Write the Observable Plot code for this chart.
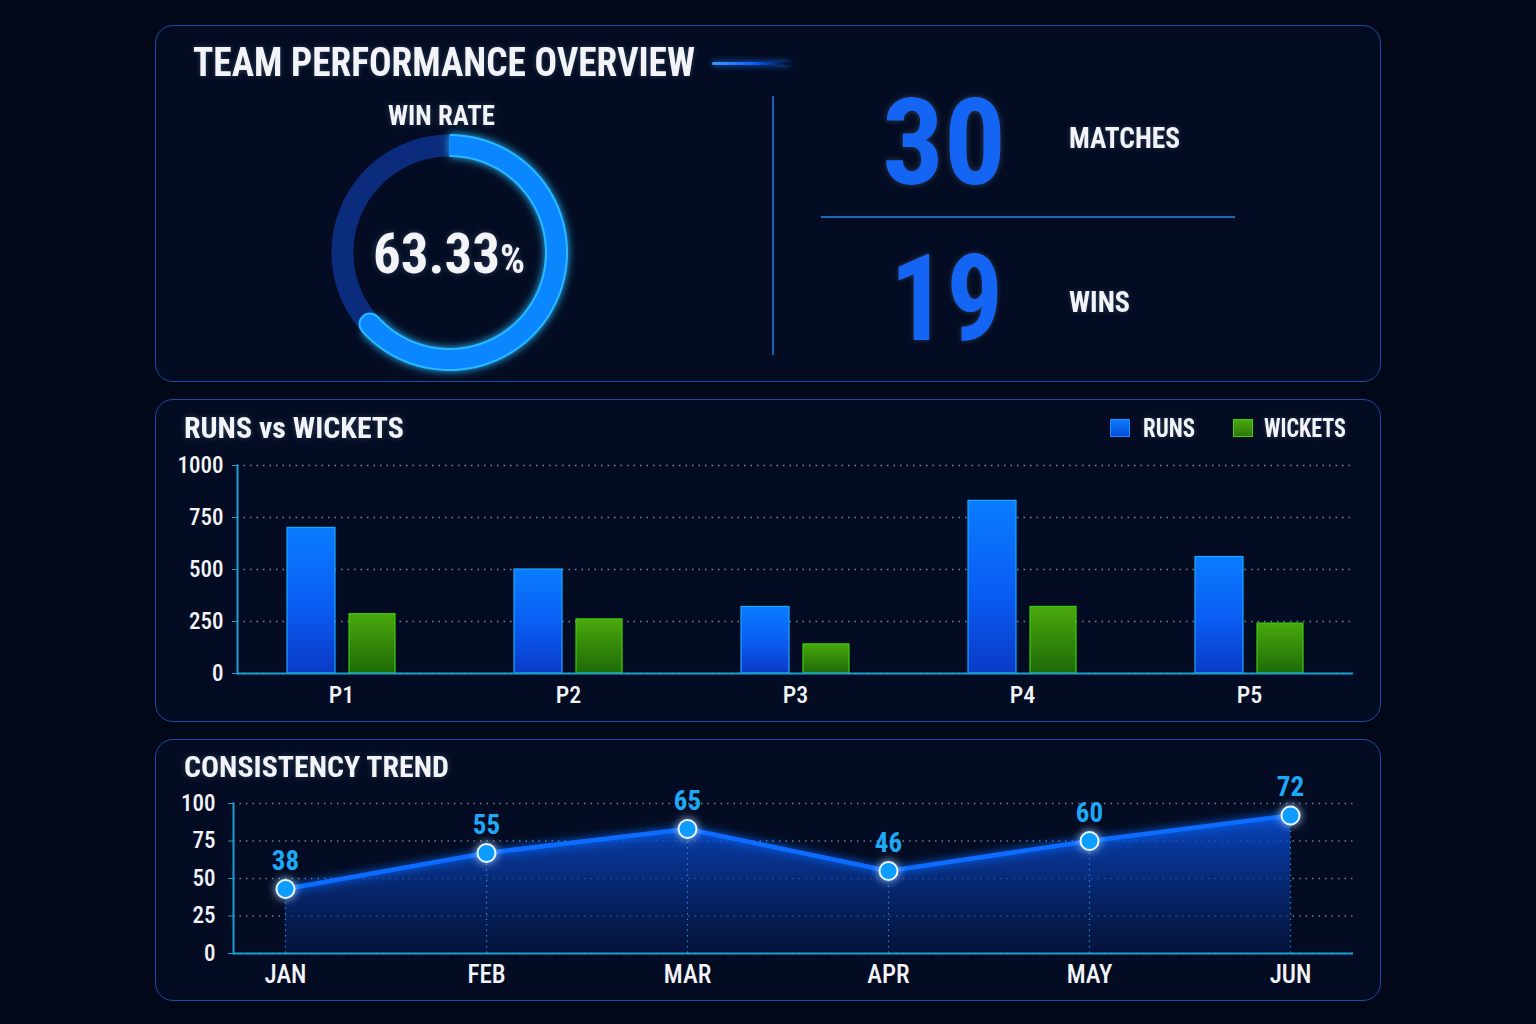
<!DOCTYPE html>
<html><head><meta charset="utf-8">
<script src="https://cdn.jsdelivr.net/npm/d3@7"></script>
<script src="https://cdn.jsdelivr.net/npm/@observablehq/plot@0.6"></script>
<style>
html,body{margin:0;padding:0;background:#020817;width:1536px;height:1024px;overflow:hidden;}
body{position:relative;font-family:"Roboto Condensed","DejaVu Sans Condensed","Liberation Sans Narrow",Roboto,"DejaVu Sans",sans-serif;}
.panel{position:absolute;left:155px;width:1226px;border:1.5px solid #1b4da6;border-radius:18px;background:#030c22;box-sizing:border-box;}
.t{position:absolute;white-space:nowrap;line-height:1;font-weight:700;text-shadow:0 0 6px rgba(180,210,255,0.25);}
.plotbox{position:absolute;}
.plotbox svg{overflow:visible;}
</style></head><body>
<svg width="0" height="0" style="position:absolute">
<defs>
<linearGradient id="runsGrad" x1="0" y1="0" x2="0" y2="1">
<stop offset="0%" stop-color="#0a7cff"/><stop offset="55%" stop-color="#0a5cf2"/><stop offset="100%" stop-color="#0a3ac6"/>
</linearGradient>
<linearGradient id="wktGrad" x1="0" y1="0" x2="0" y2="1">
<stop offset="0%" stop-color="#4aa80c"/><stop offset="100%" stop-color="#1e6a08"/>
</linearGradient>
<linearGradient id="areaGrad" x1="0" y1="0" x2="0" y2="1">
<stop offset="0%" stop-color="#0a50dc" stop-opacity="0.85"/><stop offset="100%" stop-color="#06194e" stop-opacity="0.55"/>
</linearGradient>
<filter id="glow" x="-50%" y="-50%" width="200%" height="200%">
<feGaussianBlur stdDeviation="4" result="b"/>
<feMerge><feMergeNode in="b"/><feMergeNode in="SourceGraphic"/></feMerge>
</filter>
</defs></svg>
<div class="panel" style="top:25px;height:357px"></div>
<div class="panel" style="top:399px;height:323px"></div>
<div class="panel" style="top:739px;height:262px"></div>
<div style="position:absolute;left:712px;top:62px;width:78px;height:3px;background:linear-gradient(90deg,#3a9bff,#0a5cff 55%,rgba(10,92,255,0));box-shadow:0 0 6px #1a7aff;border-radius:2px"></div>
<div style="position:absolute;left:772px;top:96px;width:1.5px;height:259px;background:#1560b0"></div>
<div style="position:absolute;left:821px;top:216px;width:414px;height:1.5px;background:#1a6ab8"></div>
<div style="position:absolute;left:1110px;top:419px;width:20px;height:18px;background:linear-gradient(#0a7cff,#0a4ad8);box-sizing:border-box;border:1px solid #1a8aff"></div>
<div style="position:absolute;left:1233px;top:419px;width:20px;height:18px;background:linear-gradient(#4aa80c,#2a7a0a);box-sizing:border-box;border:1px solid #3ccc10"></div>
<script>
// ---- data ----
const matches = 30;
const wins = 19;
const periods = ["P1", "P2", "P3", "P4", "P5"];
const runs = [700, 500, 320, 830, 560];
const wickets = [285, 260, 140, 320, 240];
const runsTicks = [0, 250, 500, 750, 1000];
const months = ["JAN", "FEB", "MAR", "APR", "MAY", "JUN"];
const consistency = [43, 67, 83, 55, 75, 92];
const consistencyLabels = ["38", "55", "65", "46", "60", "72"];
const trendTicks = [0, 25, 50, 75, 100];

const FONT = '"Roboto Condensed","DejaVu Sans Condensed","Liberation Sans Narrow",Roboto,"DejaVu Sans",sans-serif';
const AXIS = "#1a9fd0";

function addText(html, o) {
  const s = document.createElement("span");
  s.className = "t";
  s.innerHTML = html;
  s.style.fontSize = o.size + "px";
  s.style.color = o.color || "#f2f4f8";
  document.body.appendChild(s);
  const w = s.getBoundingClientRect().width;
  const k = o.w ? o.w / w : 1;
  const tw = o.w || w;
  const left = o.anchor === "middle" ? o.x - tw / 2 : o.x;
  s.style.left = left + "px";
  s.style.top = (o.cy - 0.5 * o.size) + "px";
  s.style.transformOrigin = "0 0";
  s.style.transform = `scaleX(${k})`;
  return s;
}

const winRate = wins / matches * 100;

addText("TEAM PERFORMANCE OVERVIEW", {x: 193, cy: 63, size: 40, w: 502});
addText("WIN RATE", {x: 441, cy: 116, size: 28, w: 107, anchor: "middle"});
addText(`${winRate.toFixed(2)}<span style="font-size:40px">%</span>`, {x: 449, cy: 254, size: 56, w: 152, anchor: "middle"});
addText(String(matches), {x: 944, cy: 143, size: 120, w: 124, anchor: "middle", color: "#1565f5"});
addText("MATCHES", {x: 1069, cy: 138, size: 30, w: 111});
addText(String(wins), {x: 946, cy: 299, size: 120, w: 113, anchor: "middle", color: "#1565f5"});
addText("WINS", {x: 1069, cy: 302, size: 30, w: 61});
addText("RUNS vs WICKETS", {x: 184, cy: 428, size: 30, w: 220});
addText("RUNS", {x: 1143, cy: 428, size: 25, w: 52});
addText("WICKETS", {x: 1264, cy: 428, size: 25, w: 82});
addText("CONSISTENCY TREND", {x: 184, cy: 767, size: 30, w: 265});

function place(svg, left, top) {
  const d = document.createElement("div");
  d.className = "plotbox";
  d.style.left = left + "px";
  d.style.top = top + "px";
  d.appendChild(svg);
  document.body.appendChild(d);
  return svg;
}

// ---- donut ----
const toPt = deg => ({x: Math.sin(deg * Math.PI / 180), y: Math.cos(deg * Math.PI / 180)});
const endDeg = winRate * 3.6;
const track = d3.range(0, 361, 1).map(toPt);
const arcPts = d3.range(0, endDeg, 1).concat([endDeg]).map(toPt);
const arcEnd = [arcPts[arcPts.length - 1]];
const donut = Plot.plot({
  width: 260, height: 260, margin: 0,
  x: {domain: [-1.215, 1.215], axis: null},
  y: {domain: [-1.215, 1.215], axis: null},
  style: {background: "transparent", overflow: "visible"},
  marks: [
    Plot.line(track, {x: "x", y: "y", stroke: "#0b2c7c", strokeWidth: 22}),
    Plot.dot(arcEnd, {x: "x", y: "y", r: 11.5, fill: "#2ab8ff"}),
    Plot.line(arcPts, {x: "x", y: "y", stroke: "#2ab8ff", strokeWidth: 23, strokeLinecap: "butt"}),
    Plot.dot(arcEnd, {x: "x", y: "y", r: 9.5, fill: "#0a86ff"}),
    Plot.line(arcPts, {x: "x", y: "y", stroke: "#0a86ff", strokeWidth: 19, strokeLinecap: "butt"})
  ]
});
place(donut, 319, 122);
d3.select(donut).selectAll('g[aria-label="line"]').filter((d, i) => i === 1).attr("filter", "url(#glow)");

// ---- bars ----
const barData = periods.map((p, i) => ({period: p, runs: runs[i], wickets: wickets[i]}));
const bars = Plot.plot({
  width: 1226, height: 323, marginLeft: 82, marginRight: 28, marginTop: 66, marginBottom: 49,
  style: {background: "transparent", color: "#f2f4f8", fontFamily: FONT, fontWeight: 500},
  x: {domain: periods, paddingInner: 0.5, paddingOuter: 0.2},
  y: {domain: [0, 1000]},
  marks: [
    Plot.gridY(runsTicks, {stroke: "#c8d8f0", strokeOpacity: 0.6, strokeDasharray: "1.5,5", strokeWidth: 1.5}),
    Plot.barY(barData, {x: "period", y: "runs", fill: "url(#runsGrad)", stroke: "#1aa8ff", strokeWidth: 1.2, insetLeft: 3, insetRight: 63}),
    Plot.barY(barData, {x: "period", y: "wickets", fill: "url(#wktGrad)", stroke: "#3ccc10", strokeWidth: 1.2, insetLeft: 65, insetRight: 3}),
    Plot.ruleY([0], {stroke: AXIS, strokeWidth: 2}),
    Plot.frame({anchor: "left", stroke: AXIS, strokeWidth: 2}),
    Plot.axisY({ticks: runsTicks, tickSize: 5, tickPadding: 9, stroke: AXIS, label: null, fontSize: 23, tickFormat: d => String(d)}),
    Plot.axisX({tickSize: 0, tickPadding: 12, label: null, fontSize: 24})
  ]
});
place(bars, 155, 399);

// ---- trend ----
const trendData = months.map((m, i) => ({month: m, value: consistency[i], label: consistencyLabels[i]}));
const trend = Plot.plot({
  width: 1226, height: 262, marginLeft: 78, marginRight: 28, marginTop: 64, marginBottom: 48,
  style: {background: "transparent", color: "#f2f4f8", fontFamily: FONT, fontWeight: 500},
  x: {type: "point", domain: months, range: [130, 1135], padding: 0},
  y: {domain: [0, 100]},
  marks: [
    Plot.gridY(trendTicks, {stroke: "#c8d8f0", strokeOpacity: 0.55, strokeDasharray: "1.5,5", strokeWidth: 1.5}),
    Plot.areaY(trendData, {x: "month", y: "value", fill: "url(#areaGrad)"}),
    Plot.ruleX(trendData, {x: "month", y1: 0, y2: "value", stroke: "#1a8ae8", strokeDasharray: "1.5,4", strokeWidth: 1.2}),
    Plot.line(trendData, {x: "month", y: "value", stroke: "#0a6cff", strokeWidth: 4.5}),
    Plot.dot(trendData, {x: "month", y: "value", r: 9, fill: "#0a9cff", stroke: "#eaf6ff", strokeWidth: 2}),
    Plot.text(trendData, {x: "month", y: "value", text: "label", dy: -28, fill: "#1ea8f5", fontSize: 27, fontWeight: 700}),
    Plot.ruleY([0], {stroke: AXIS, strokeWidth: 2}),
    Plot.frame({anchor: "left", stroke: AXIS, strokeWidth: 2}),
    Plot.axisY({ticks: trendTicks, tickSize: 5, tickPadding: 13, stroke: AXIS, label: null, fontSize: 23}),
    Plot.axisX({tickSize: 0, tickPadding: 12, label: null, fontSize: 25})
  ]
});
place(trend, 155, 739);
d3.select(trend).selectAll('g[aria-label="line"], g[aria-label="dot"]').attr("filter", "url(#glow)");
</script>
</body></html>
